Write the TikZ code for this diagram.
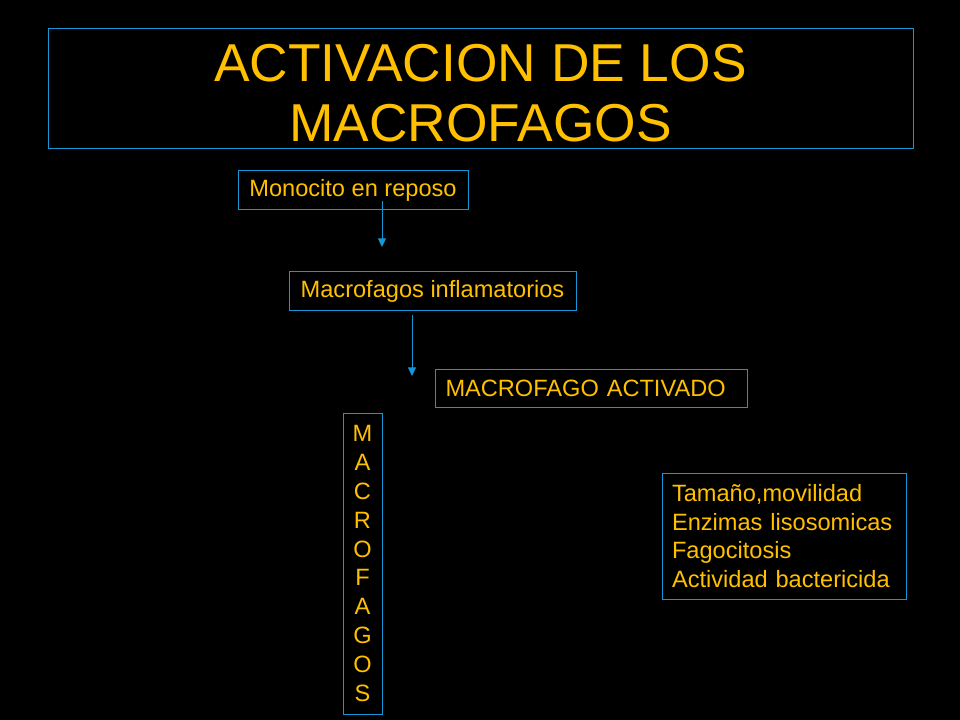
\documentclass[tikz,border=0pt]{standalone}
\usepackage{fontspec}
\setmainfont{Liberation Sans}
\usetikzlibrary{arrows.meta}
\definecolor{bordblue}{RGB}{20,150,215}
\definecolor{txtyel}{RGB}{255,192,0}
\begin{document}
\begin{tikzpicture}[x=0.75pt,y=-0.75pt,
  box/.style={draw=bordblue,line width=0.75pt,text=txtyel,inner sep=0pt,font=\fontsize{17.7pt}{21.6pt}\selectfont},
  conn/.style={draw=bordblue,line width=0.75pt,-{Triangle[length=6.5pt,width=6pt]}}]
\fill[black] (0,0) rectangle (960,720);
\useasboundingbox (0,0) rectangle (960,720);
\node[box,minimum width=648.75pt,minimum height=90pt] (titlebox) at (480.5,89) {};
\node[text=txtyel,inner sep=0pt,align=center,
  font=\fontsize{40pt}{45pt}\selectfont] (title) at (480.5,93) {ACTIVACION DE LOS\\MACROFAGOS};
\node[box,minimum width=172.5pt,minimum height=29.25pt] (mono) at (353,190.5) {Monocito en reposo};
\node[box,minimum width=215.25pt,minimum height=28.5pt] (infl) at (432.5,291) {Macrofagos inflamatorios};
\node[box,minimum width=234pt,minimum height=28.5pt,text width=219pt,inner xsep=7.5pt,align=left] (act) at (591.5,388.5) {MACROFAGO ACTIVADO};
\node[box,minimum width=29.25pt,minimum height=225.75pt,align=center] (vert) at (362.5,563.5) {M\\A\\C\\R\\O\\F\\A\\G\\O\\S};
\node[box,minimum width=183pt,minimum height=94.5pt,text width=168pt,inner xsep=7.5pt,align=left] (attr) at (784,536)
  {\mbox{Tamaño,movilidad}\\\mbox{Enzimas lisosomicas}\\\mbox{Fagocitosis}\\\mbox{Actividad bactericida}};
\coordinate (a1s) at (382,201);
\coordinate (a1e) at (382,247);
\coordinate (a2s) at (412,315);
\coordinate (a2e) at (412,376);
\draw[conn] (a1s) -- (a1e);
\draw[conn] (a2s) -- (a2e);
\end{tikzpicture}
\end{document}
